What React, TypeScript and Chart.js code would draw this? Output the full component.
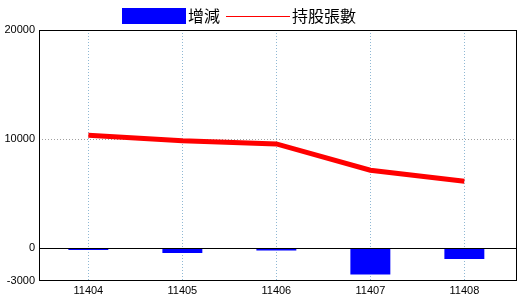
import React, { useEffect, useRef } from "react";
import { Chart, registerables } from "chart.js";

Chart.register(...registerables);

const categories = ["11404", "11405", "11406", "11407", "11408"];
const changeValues = [-150, -430, -210, -2410, -980];
const holdingValues = [10360, 9860, 9560, 7150, 6140];
const yTickValues = [-3000, 0, 10000, 20000];
const seriesNames = ["增減", "持股張數"];

const FONT = '"Liberation Sans", Arial, sans-serif';
const CJK = '"Noto Sans CJK TC", "Noto Sans CJK SC", sans-serif';

const framePlugin = {
  id: "frameAndLegend",
  afterDatasetsDraw(chart: any) {
    const { ctx, chartArea, scales } = chart;
    const { left, right, top, bottom } = chartArea;
    ctx.save();
    ctx.strokeStyle = "#000";
    ctx.lineWidth = 1;
    ctx.setLineDash([]);
    const y0 = Math.round(scales.y.getPixelForValue(0)) + 0.5;
    ctx.beginPath();
    ctx.moveTo(left, y0);
    ctx.lineTo(right, y0);
    ctx.stroke();
    ctx.strokeRect(left + 0.5, top + 0.5, right - left - 1, bottom - top - 1);
    ctx.restore();
  },
  afterDraw(chart: any) {
    const { ctx } = chart;
    ctx.save();
    ctx.font = "16px " + CJK;
    ctx.textBaseline = "middle";
    ctx.textAlign = "left";
    ctx.fillStyle = "#0000ff";
    ctx.fillRect(122, 8, 64, 16);
    ctx.fillStyle = "#000";
    ctx.fillText(seriesNames[0], 188, 16);
    ctx.strokeStyle = "#ff0000";
    ctx.lineWidth = 1;
    ctx.beginPath();
    ctx.moveTo(226, 16.5);
    ctx.lineTo(290, 16.5);
    ctx.stroke();
    ctx.fillText(seriesNames[1], 292, 16);
    ctx.restore();
  },
};

export default function App() {
  const ref = useRef<HTMLCanvasElement>(null);
  useEffect(() => {
    document.body.style.margin = "0";
    const chart = new Chart(ref.current as HTMLCanvasElement, {
      type: "bar",
      data: {
        datasets: [
          {
            type: "line",
            label: seriesNames[1],
            data: holdingValues.map((v, i) => ({ x: i, y: v })),
            borderColor: "#ff0000",
            backgroundColor: "#ff0000",
            borderWidth: 5,
            pointRadius: 0,
            tension: 0,
            fill: false,
            order: 0,
          } as any,
          {
            type: "bar",
            label: seriesNames[0],
            data: changeValues.map((v, i) => ({ x: i, y: v })),
            backgroundColor: "#0000ff",
            borderWidth: 0,
            categoryPercentage: 1,
            barPercentage: 0.425,
            order: 1,
          } as any,
        ],
      },
      options: {
        responsive: false,
        animation: false,
        layout: { padding: { top: 30, right: 3, left: 0, bottom: 0 } },
        plugins: { legend: { display: false }, tooltip: { enabled: false } },
        scales: {
          x: {
            type: "linear",
            offset: false,
            min: -0.525,
            max: 4.56,
            afterBuildTicks: (scale: any) => {
              scale.ticks = categories.map((_, i) => ({ value: i }));
            },
            afterFit: (scale: any) => {
              scale.height = 19;
            },
            ticks: {
              autoSkip: false,
              maxRotation: 0,
              padding: 3,
              color: "#000",
              font: { family: FONT, size: 11 },
              callback: (v: any) => categories[v] ?? "",
            },
            grid: {
              offset: false,
              color: "#8fb8d4",
              lineWidth: 1,
              drawTicks: false,
            },
            border: { display: false, dash: [1, 2] },
          },
          y: {
            type: "linear",
            min: -3000,
            max: 20000,
            afterBuildTicks: (scale: any) => {
              scale.ticks = yTickValues.map((v) => ({ value: v }));
            },
            afterFit: (scale: any) => {
              scale.width = 39;
            },
            ticks: {
              padding: 4,
              color: "#000",
              font: { family: FONT, size: 11 },
              callback: (v: any) => String(v),
            },
            grid: {
              color: (c: any) => (c.tick && c.tick.value === 10000 ? "#a0a0a0" : "rgba(0,0,0,0)"),
              lineWidth: 1,
              drawTicks: false,
            },
            border: { display: false, dash: [1, 2] },
          },
        },
      } as any,
      plugins: [framePlugin],
    });
    return () => chart.destroy();
  }, []);
  return (
    <div style={{ position: "absolute", left: 0, top: 0, width: 520, height: 300 }}>
      <canvas ref={ref} width={520} height={300} />
    </div>
  );
}
